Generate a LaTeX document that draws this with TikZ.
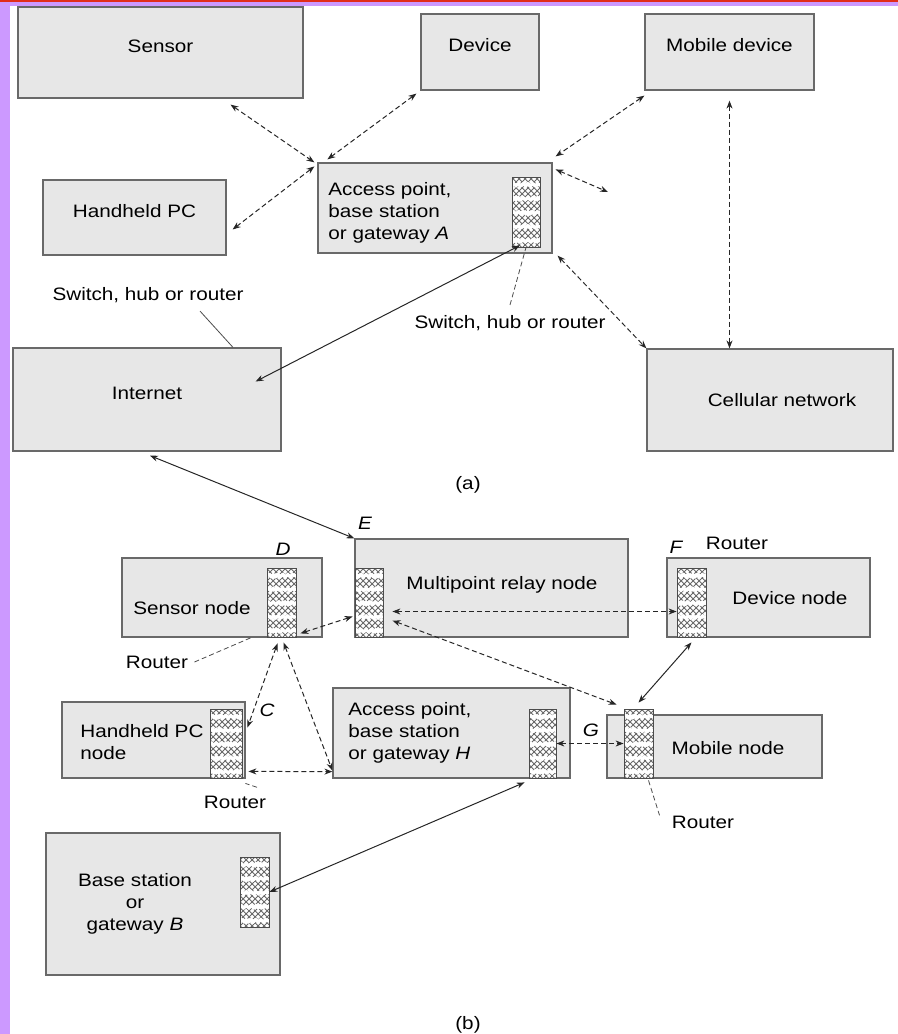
\documentclass[tikz,border=0pt]{standalone}
\usepackage{fontspec}
\setmainfont{Liberation Sans}[FakeStretch=1.15]
\usetikzlibrary{arrows.meta,fit,calc,patterns,decorations.pathmorphing}

\definecolor{boxfill}{RGB}{231,231,231}
\definecolor{boxline}{RGB}{105,105,105}
\definecolor{framepurple}{RGB}{204,153,255}
\definecolor{framered}{RGB}{225,45,25}

\tikzset{
  box/.style={draw=boxline, fill=boxfill, line width=0.6pt, inner sep=0pt},
  router/.style={draw=black!70, line width=0.4pt, inner sep=0pt, fill=white,
    path picture={
      \fill[pattern=crosshatch, pattern color=black!60]
        (path picture bounding box.south west) rectangle (path picture bounding box.north east);
      \foreach \k in {1,...,5}
        \draw[white, line width=1.6pt, decorate, decoration={snake, amplitude=0.5pt, segment length=2.4pt}]
          ($(path picture bounding box.north west)!{(\k-0.45)/5}!(path picture bounding box.south west)$) --
          ($(path picture bounding box.north east)!{(\k-0.45)/5}!(path picture bounding box.south east)$);
    }},
  link/.style={{Stealth[length=4pt,width=3pt]}-{Stealth[length=4pt,width=3pt]}, line width=0.5pt, black!85},
  dlink/.style={link, dash pattern=on 2.5pt off 1.5pt},
  leader/.style={black!70, line width=0.4pt, dash pattern=on 2.5pt off 1.5pt},
  txt/.style={inner sep=0pt, align=left},
  tag/.style={inner sep=0pt, font=\fontsize{9}{11}\selectfont\itshape}
}

\begin{document}
\begin{tikzpicture}[x=0.5pt, y=-0.5pt, font=\fontsize{9}{11}\selectfont]
\useasboundingbox (0,0) rectangle (898,1034);
% frame
\fill[framepurple] (0,0) rectangle (10,1034);
\fill[framepurple] (0,0) rectangle (898,6);
\fill[framered] (0,0) rectangle (898,1.5);

% (a)
\node[box, fit={(18,7) (303,98)}] (sensor) {Sensor};
\node[box, fit={(421,14) (539,90)}] (device) {Device};
\node[box, fit={(645,14) (814,90)}] (mobiledev) {Mobile device};
\node[box, fit={(43,180) (226,255)}] (handheld) {Handheld PC};
\node[box, fit={(318,163) (552,253)}] (apA) {};
\node[router, fit={(512,177) (540,247)}] (rA) {};
\node[box, fit={(13,348) (281,451)}] (internet) {Internet};
\node[box, fit={(647,349) (893,451)}] (cellular) {};
\node[txt, anchor=west] (apAtext) at (328,213) {Access point,\\base station\\or gateway \textit{A}};
\node[txt] (celltext) at (782,400) {Cellular network};
\node[txt] (swleft) at (148,295) {Switch, hub or router};
\node[txt] (swright) at (510,323) {Switch, hub or router};
\node[txt] (capa) at (468,485) {(a)};
\coordinate (stray) at (608,192);

\draw[dlink] ([xshift=35pt,yshift=-3pt]sensor.south) -- ([xshift=-1.5pt]apA.north west);
\draw[dlink] ([xshift=-2pt,yshift=-1.5pt]device.south west) -- ([xshift=5pt,yshift=1.5pt]apA.north west);
\draw[dlink] ([xshift=3pt,yshift=-6pt]handheld.east) -- ([xshift=-1.5pt,yshift=-2pt]apA.north west);
\draw[dlink] ([yshift=-2.5pt]mobiledev.south west) -- ([xshift=1.5pt,yshift=3pt]apA.north east);
\draw[dlink] ([xshift=1.5pt,yshift=-3.5pt]apA.north east) -- (stray);
\draw[dlink] ([yshift=-5pt]mobiledev.south) -- (mobiledev.south |- cellular.north);
\draw[dlink] ([xshift=2.5pt,yshift=-1pt]apA.south east) -- (cellular.north west);
\draw[link] ([xshift=-3pt,yshift=1pt]rA.south) -- ([xshift=-13pt,yshift=9pt]internet.east);
\draw[leader] ([yshift=5pt]swright.north) -- (rA.south);
\draw[black!70, line width=0.4pt] ([xshift=26pt,yshift=-4pt]swleft.south) -- ([xshift=43pt]internet.north);

% (b)
\node[box, fit={(355,539) (628,637)}] (relay) {};
\node[router, fit={(355,568) (383,637)}] (rE) {};
\node[box, fit={(122,558) (322,637)}] (sensornode) {};
\node[router, fit={(267,568) (296,637)}] (rD) {};
\node[box, fit={(62,702) (245,778)}] (handheldnode) {};
\node[router, fit={(210,709) (242,778)}] (rC) {};
\node[box, fit={(333,688) (570,778)}] (apH) {};
\node[router, fit={(529,709) (556,778)}] (rH) {};
\node[box, fit={(667,558) (870,637)}] (devicenode) {};
\node[router, fit={(677,568) (706,637)}] (rF) {};
\node[box, fit={(607,715) (822,778)}] (mobilenode) {};
\node[router, fit={(624,709) (653,778)}] (rG) {};
\node[box, fit={(46,833) (280,975)}] (baseB) {};
\node[router, fit={(240,857) (269,927)}] (rB) {};

\node[txt] (relaytext) at (502,585) {Multipoint relay node};
\node[txt] (sensortext) at (192,608) {Sensor node};
\node[txt, anchor=west] (handheldtext) at (80,742) {Handheld PC\\node};
\node[txt, anchor=west] (apHtext) at (348,733) {Access point,\\base station\\or gateway \textit{H}};
\node[txt] (devicetext) at (790,598) {Device node};
\node[txt] (mobiletext) at (728,748) {Mobile node};
\node[txt, align=center] (baseBtext) at (135,904) {Base station\\or\\gateway \textit{B}};

\node[tag] (tagE) at (365,523) {E};
\node[tag] (tagD) at (283,549) {D};
\node[tag] (tagF) at (676,547) {F};
\node[tag] (tagC) at (267,710) {C};
\node[tag] (tagG) at (591,730) {G};

\node[txt] (routerD) at (157,662) {Router};
\node[txt] (routerC) at (235,802) {Router};
\node[txt] (routerF) at (737,543) {Router};
\node[txt] (routerG) at (703,822) {Router};
\node[txt] (capb) at (468,1025) {(b)};

\draw[link] ([xshift=1.5pt,yshift=-2pt]internet.south) -- (relay.north west);
\draw[dlink] ([xshift=2pt,yshift=2pt]rD.south east) -- ([xshift=-1pt,yshift=-7pt]rE.west);
\draw[dlink] ([xshift=4.5pt,yshift=-4.5pt]rE.east) -- ([yshift=-4.5pt]rF.west);
\draw[dlink] ([xshift=4.5pt,yshift=-9pt]rE.east) -- ([xshift=-3.5pt,yshift=2pt]rG.north west);
\draw[link] ([yshift=-2.5pt]rF.south) -- ([yshift=3pt]rG.north);
\draw[dlink] (rH.east) -- (rG.west);
\draw[dlink] ([xshift=-2pt,yshift=-3pt]rD.south) -- ([xshift=2.5pt,yshift=8pt]rC.east);
\draw[dlink] ([xshift=1pt,yshift=-2.5pt]rD.south) -- ([yshift=4pt]apH.south west);
\draw[dlink] ([xshift=3pt,yshift=3.5pt]rC.south east) -- ([yshift=3.5pt]apH.south west);
\draw[link] ([xshift=-2pt,yshift=-2pt]rH.south west) -- (rB.east);

\draw[leader] ([xshift=3pt]routerD.east) -- ([xshift=-7.5pt]rD.south west);
\draw[leader] ([xshift=11pt,yshift=4pt]routerC.north) -- ([xshift=1.5pt,yshift=-2.5pt]rC.south east);
\draw[leader] ([xshift=5pt,yshift=-1pt]rG.south) -- ([xshift=-6pt]routerG.north west);
\end{tikzpicture}
\end{document}
